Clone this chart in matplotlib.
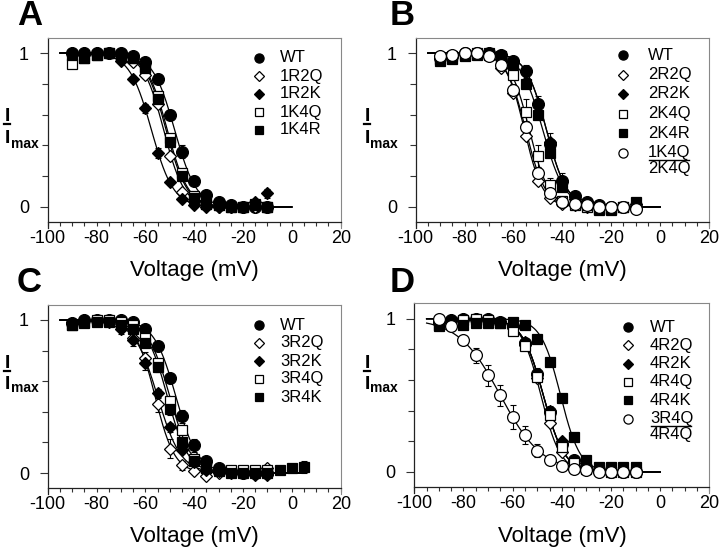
import numpy as np
import matplotlib
matplotlib.use("Agg")
import matplotlib.pyplot as plt
from matplotlib.lines import Line2D

plt.rcParams['font.family'] = ['Liberation Sans', 'DejaVu Sans']
plt.rcParams['axes.unicode_minus'] = False

# test potentials (mV)
volts = [-90, -85, -80, -75, -70, -65, -60, -55, -50, -45, -40, -35, -30, -25, -20, -15, -10]
volts_c = [-90, -85, -80, -75, -70, -65, -60, -55, -50, -45, -40, -35, -30, -25, -20, -15, -10, -5, 0, 5]

# ---- panel A ----
a_labels = ["WT", "1R2Q", "1R2K", "1K4Q", "1K4R"]
a_wt   = [1.0, 1.0, 1.0, 1.0, 1.0, 0.98, 0.94, 0.83, 0.60, 0.36, 0.17, 0.08, 0.03, 0.01, 0.0, 0.0, 0.0]
a_1r2q = [1.0, 0.99, 1.0, 1.0, 0.98, 0.94, 0.86, 0.67, 0.33, 0.10, 0.04, 0.01, 0.0, 0.0, 0.0, 0.0, 0.0]
a_1r2k = [1.0, 1.0, 1.0, 1.0, 0.95, 0.83, 0.64, 0.35, 0.16, 0.05, 0.01, 0.0, 0.0, 0.0, 0.0, 0.03, 0.09]
a_1k4q = [0.93, 0.97, 0.99, 1.0, 0.99, 0.97, 0.91, 0.72, 0.45, 0.22, 0.07, 0.02, 0.01, 0.0, 0.0, 0.01, 0.0]
a_1k4r = [0.99, 0.97, 0.99, 1.0, 0.99, 0.97, 0.90, 0.70, 0.42, 0.20, 0.06, 0.02, 0.01, 0.0, 0.0, 0.02, 0.0]
a_err_wt   = [0, 0, 0, 0, 0, 0, 0.02, 0.02, 0.03, 0.04, 0.03, 0.02, 0, 0, 0, 0, 0]
a_err_1r2k = [0, 0, 0, 0, 0, 0.02, 0.03, 0.03, 0.02, 0.01, 0, 0, 0, 0, 0, 0.02, 0.03]
a_err_1k4r = [0, 0, 0, 0, 0, 0, 0.02, 0.03, 0.03, 0.03, 0.02, 0, 0, 0, 0, 0, 0]
a_vhalf = [-48.0, -52.5, -57.5, -51.5, -51.0]
a_slope = [4.5, 4.2, 4.5, 4.3, 4.3]

# ---- panel B ----
b_labels = ["WT", "2R2Q", "2R2K", "2K4Q", "2K4R", "1K4Q/2K4Q"]
b_wt   = [0.97, 0.98, 1.0, 1.0, 1.0, 0.99, 0.95, 0.88, 0.67, 0.41, 0.17, 0.07, 0.03, 0.01, 0.0, 0.0, 0.0]
b_2r2q = [0.97, 0.99, 1.0, 1.0, 0.98, 0.90, 0.74, 0.46, 0.17, 0.06, 0.02, 0.01, 0.0, 0.0, 0.0, 0.0, 0.0]
b_2r2k = [0.97, 0.98, 1.0, 1.0, 1.0, 0.99, 0.94, 0.88, 0.67, 0.42, 0.17, 0.05, 0.02, 0.0, 0.0, 0.0, 0.02]
b_2k4q = [0.96, 0.98, 0.99, 1.0, 0.99, 0.96, 0.86, 0.62, 0.33, 0.14, 0.04, 0.01, 0.0, -0.02, -0.02, 0.0, 0.0]
b_2k4r = [0.95, 0.96, 0.98, 0.99, 1.0, 0.98, 0.93, 0.80, 0.60, 0.35, 0.13, 0.05, 0.01, -0.01, -0.01, 0.0, 0.03]
b_frac = [0.98, 0.99, 1.0, 1.0, 0.98, 0.92, 0.76, 0.52, 0.22, 0.09, 0.03, 0.02, 0.01, 0.0, 0.0, 0.0, -0.01]
b_err_2r2k = [0, 0, 0, 0, 0, 0, 0.02, 0.04, 0.05, 0.06, 0.05, 0.02, 0, 0, 0, 0, 0]
b_err_2k4q = [0, 0, 0, 0, 0, 0, 0.03, 0.08, 0.07, 0.05, 0.02, 0, 0, 0, 0, 0, 0]
b_err_frac = [0, 0, 0, 0, 0, 0.02, 0.04, 0.04, 0.03, 0.02, 0, 0, 0, 0, 0, 0, 0]
b_vhalf = [-46.5, -55.5, -46.5, -53.5, -48.0, -55.0]
b_slope = [4.2, 3.8, 4.2, 4.0, 4.5, 4.0]

# ---- panel C ----
c_labels = ["WT", "3R2Q", "3R2K", "3R4Q", "3R4K"]
c_wt   = [0.98, 1.0, 1.0, 1.0, 1.0, 0.99, 0.94, 0.83, 0.62, 0.37, 0.18, 0.08, 0.03, 0.01, 0.0, 0.0, 0.0]
c_3r2q = [0.98, 1.0, 1.0, 1.0, 0.96, 0.88, 0.75, 0.45, 0.16, 0.05, 0.01, -0.02, 0.0, 0.01, 0.01, 0.01, 0.03]
c_3r2k = [0.98, 1.0, 1.0, 0.99, 0.94, 0.87, 0.72, 0.52, 0.30, 0.15, 0.07, 0.02, 0.01, 0.0, 0.0, -0.01, -0.01]
c_3r4q = [0.97, 0.99, 1.0, 1.0, 0.99, 0.97, 0.88, 0.72, 0.47, 0.28, 0.09, 0.03, 0.02, 0.02, 0.02, 0.02, 0.02]
c_3r4k = [0.97, 0.98, 0.99, 0.99, 0.97, 0.94, 0.85, 0.69, 0.42, 0.20, 0.08, 0.03, 0.01, 0.0, 0.0, 0.0, 0.0, 0.02, 0.03, 0.04]
c_err_wt   = [0, 0, 0, 0, 0, 0, 0.02, 0.02, 0.03, 0.04, 0.04, 0.02, 0, 0, 0, 0, 0]
c_err_3r2q = [0, 0, 0, 0, 0, 0.03, 0.04, 0.05, 0.06, 0.03, 0.01, 0, 0, 0, 0, 0, 0]
c_err_3r2k = [0, 0, 0, 0, 0.03, 0.04, 0.05, 0.03, 0.03, 0.02, 0, 0, 0, 0, 0, 0, 0]
c_err_3r4k = [0, 0, 0, 0, 0, 0, 0.02, 0.03, 0.04, 0.03, 0.02, 0, 0, 0, 0, 0, 0, 0, 0.02, 0.04]
c_vhalf = [-47.5, -56.0, -55.0, -50.0, -51.0]
c_slope = [4.5, 4.0, 4.8, 4.5, 4.3]

# ---- panel D ----
d_labels = ["WT", "4R2Q", "4R2K", "4R4Q", "4R4K", "3R4Q/4R4Q"]
d_wt   = [0.98, 0.99, 1.0, 1.0, 1.0, 0.98, 0.95, 0.84, 0.64, 0.39, 0.18, 0.08, 0.03, 0.01, 0.0, 0.0, 0.0]
d_4r2q = [0.98, 0.99, 1.0, 1.0, 1.0, 0.98, 0.94, 0.83, 0.61, 0.32, 0.13, 0.04, 0.01, 0.0, 0.0, 0.0, 0.0]
d_4r2k = [0.98, 0.99, 1.0, 1.0, 1.0, 0.98, 0.95, 0.85, 0.64, 0.40, 0.20, 0.06, 0.02, 0.01, 0.0, 0.0, 0.0]
d_4r4q = [0.96, 0.98, 0.99, 1.0, 0.99, 0.97, 0.92, 0.82, 0.62, 0.37, 0.16, 0.06, 0.02, 0.01, 0.0, 0.0, 0.0]
d_4r4k = [0.95, 0.98, 0.96, 0.97, 0.97, 0.97, 0.98, 0.96, 0.87, 0.72, 0.48, 0.23, 0.08, 0.03, 0.03, 0.03, 0.03]
d_frac = [1.0, 0.95, 0.86, 0.76, 0.63, 0.50, 0.36, 0.24, 0.14, 0.08, 0.04, 0.02, 0.01, 0.0, 0.0, 0.0, 0.0]
d_err_wt   = [0, 0, 0, 0, 0, 0, 0.03, 0.03, 0.04, 0.04, 0.03, 0.02, 0, 0, 0, 0, 0]
d_err_4r4k = [0, 0, 0, 0, 0, 0, 0, 0, 0, 0, 0, 0, 0.02, 0, 0, 0, 0]
d_err_frac = [0.02, 0.03, 0.03, 0.05, 0.07, 0.07, 0.08, 0.06, 0.04, 0.03, 0, 0, 0, 0, 0, 0, 0]
d_vhalf = [-47.5, -48.5, -47.5, -47.5, -40.5, -65.0]
d_slope = [4.3, 4.0, 4.3, 4.3, 4.0, 8.5]

# marker style per row: (marker, filled, data size, legend size)
STYLES = [("o", True, 8.5, 6.6), ("D", False, 6.3, 4.9), ("D", True, 6.3, 4.9),
          ("s", False, 7.3, 5.2), ("s", True, 7.3, 5.2), ("o", False, 8.5, 6.6)]

W, H = 720, 554
fig = plt.figure(figsize=(W / 100, H / 100), dpi=100)


def fx(x):
    return x / W


def fy(y):
    return 1 - y / H


def boltzmann(v, vh, k):
    return 1.0 / (1.0 + np.exp((v - vh) / k))


def make_axes(x100, x20, y1, y0):
    upp = y0 - y1
    top = y0 - 1.1 * upp
    bottom = y0 + 0.135 * upp
    ax = fig.add_axes([fx(x100), fy(bottom), fx(x20 - x100), (bottom - top) / H])
    ax.set_xlim(-100, 20)
    ax.set_ylim(-0.135, 1.1)
    ax.spines['bottom'].set_position(('data', -0.1))
    for s in ['left', 'bottom']:
        ax.spines[s].set_color('#222222')
        ax.spines[s].set_linewidth(0.9)
    for s in ['top', 'right']:
        ax.spines[s].set_color('#888888')
        ax.spines[s].set_linewidth(0.8)
    ax.set_xticks(np.arange(-100, 21, 20))
    ax.set_xticks(np.arange(-100, 21, 5), minor=True)
    ax.set_yticks([0, 1])
    ax.set_yticklabels(["0", "1"])
    ax.set_yticks([0.2, 0.4, 0.6, 0.8], minor=True)
    ax.tick_params(axis='x', which='both', direction='out', length=3, width=0.8,
                   labelsize=13, pad=2.5, color='#333333')
    ax.tick_params(axis='y', which='major', direction='out', length=5.5, width=0.8,
                   labelsize=13, pad=8, color='#333333')
    ax.tick_params(axis='y', which='minor', direction='out', length=4, width=0.8,
                   color='#333333')
    return ax


def draw_panel(ax, xs_list, ys_list, errs, vhalf, slope, vmax):
    vv = np.linspace(-95, vmax, 300)
    for vh, k in zip(vhalf, slope):
        ax.plot(vv, boltzmann(vv, vh, k), color='black', lw=0.9, zorder=2)
    for i, (xs, ys) in enumerate(zip(xs_list, ys_list)):
        mk, filled, ms, _ = STYLES[i]
        err = errs.get(i)
        if err is not None:
            xe = [x for x, e in zip(xs, err) if e > 0]
            ye = [y for y, e in zip(ys, err) if e > 0]
            ee = [e for e in err if e > 0]
            ax.errorbar(xe, ye, yerr=ee, fmt='none', ecolor='black',
                        elinewidth=0.8, capsize=2.2, capthick=0.8, zorder=3)
        ax.plot(xs, ys, linestyle='none', marker=mk, markersize=ms,
                markerfacecolor='black' if filled else 'white',
                markeredgecolor='black', markeredgewidth=0.9, zorder=4)


def draw_legend(labels, mx, tx, y0, step):
    for i, lab in enumerate(labels):
        mk, filled, _, ms = STYLES[i]
        y = y0 + i * step
        fig.add_artist(Line2D([fx(mx)], [fy(y)], marker=mk, markersize=ms,
                              markerfacecolor='black' if filled else 'white',
                              markeredgecolor='black', markeredgewidth=0.9,
                              linestyle='none'))
        if "/" in lab:
            num, den = lab.split("/")
            fig.text(fx(tx), fy(y), num, fontsize=12, va='center', ha='left')
            fig.text(fx(tx), fy(y + 16), den, fontsize=12, va='center', ha='left')
            fig.add_artist(Line2D([fx(tx + 0.5), fx(tx + 40.5)], [fy(y + 7.8), fy(y + 7.8)],
                                  color='black', lw=1.0))
        else:
            fig.text(fx(tx), fy(y), lab, fontsize=12, va='center', ha='left')


def draw_ylabel(x, base_top, line_y, base_low, base_max):
    fig.text(fx(x), fy(base_top), "I", fontsize=14, fontweight='bold', va='baseline')
    fig.add_artist(Line2D([fx(x - 1), fx(x + 5)], [fy(line_y), fy(line_y)],
                          color='black', lw=1.6))
    fig.text(fx(x), fy(base_low), "I", fontsize=14, fontweight='bold', va='baseline')
    fig.text(fx(x + 5.5), fy(base_max), "max", fontsize=10, fontweight='bold', va='baseline')


# panel geometry (pixel positions of x=-100, x=20, y=1, y=0)
axA = make_axes(47.7, 340.7, 53, 207)
axB = make_axes(415.7, 709, 53, 207)
axC = make_axes(47.7, 340.7, 320, 473)
axD = make_axes(414.3, 709.3, 318.7, 472)

draw_panel(axA, [volts] * 5, [a_wt, a_1r2q, a_1r2k, a_1k4q, a_1k4r],
           {0: a_err_wt, 2: a_err_1r2k, 4: a_err_1k4r}, a_vhalf, a_slope, 0)
draw_panel(axB, [volts] * 6, [b_wt, b_2r2q, b_2r2k, b_2k4q, b_2k4r, b_frac],
           {2: b_err_2r2k, 3: b_err_2k4q, 5: b_err_frac}, b_vhalf, b_slope, 0)
draw_panel(axC, [volts] * 4 + [volts_c], [c_wt, c_3r2q, c_3r2k, c_3r4q, c_3r4k],
           {0: c_err_wt, 1: c_err_3r2q, 2: c_err_3r2k, 4: c_err_3r4k}, c_vhalf, c_slope, 5)
draw_panel(axD, [volts] * 6, [d_wt, d_4r2q, d_4r2k, d_4r4q, d_4r4k, d_frac],
           {0: d_err_wt, 4: d_err_4r4k, 5: d_err_frac}, d_vhalf, d_slope, 0)

draw_legend(a_labels, 259, 280, 58, 18)
draw_legend(b_labels, 623, 648, 55, 19.5)
draw_legend(c_labels, 259, 280, 325, 18)
draw_legend(d_labels, 628, 650, 327, 18.3)

draw_ylabel(5, 121, 123.5, 143, 148)
draw_ylabel(365, 121, 123.5, 143, 148)
draw_ylabel(5, 368, 371, 389, 392)
draw_ylabel(365, 368, 371, 389, 392)

# x axis titles
for cx, base in [(194, 276), (562, 276), (194, 542), (562, 542)]:
    fig.text(fx(cx), fy(base), "Voltage (mV)", fontsize=16, ha='center', va='baseline')

# panel letters
for lx, base, letter in [(17, 25, "A"), (390, 25, "B"), (17, 292, "C"), (390, 292, "D")]:
    fig.text(fx(lx), fy(base), letter, fontsize=25, fontweight='bold', va='baseline')

fig.savefig("out.png", dpi=100)
